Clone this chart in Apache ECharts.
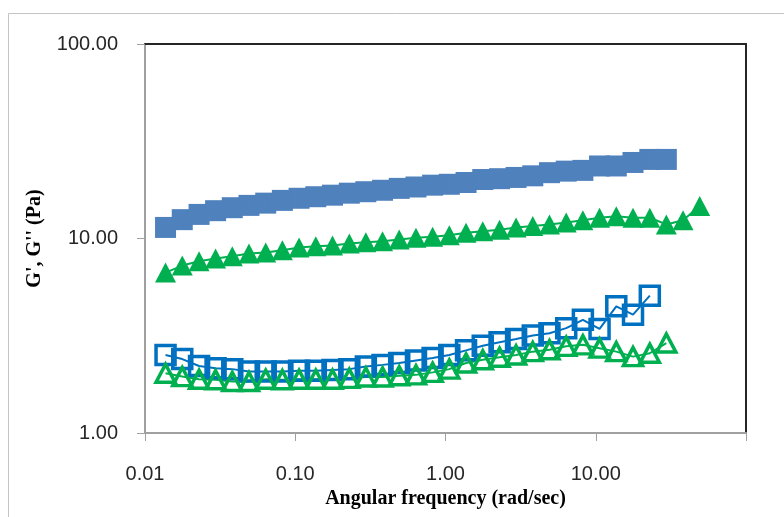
<!DOCTYPE html>
<html>
<head>
<meta charset="utf-8">
<script src="https://cdn.jsdelivr.net/npm/echarts@6/dist/echarts.min.js"></script>
<style>
  html, body { margin: 0; padding: 0; background: #fff; }
  #chart { width: 784px; height: 517px; }
</style>
</head>
<body>
<div id="chart"></div>
<script>
  // angular frequency (rad/sec), shared by all four series
  const freq = [0.0137, 0.0177, 0.0229, 0.0295, 0.0381, 0.0492, 0.0636, 0.0821, 0.106, 0.137,
    0.177, 0.229, 0.295, 0.381, 0.492, 0.636, 0.821, 1.06, 1.37, 1.77,
    2.29, 2.95, 3.81, 4.92, 6.36, 8.21, 10.6, 13.7, 17.7, 22.9,
    29.5, 38.1, 49.2]
  // filled squares (G')
  const gStoreA = [11.4, 12.5, 13.3, 13.9, 14.4, 14.8, 15.2, 15.7, 16.1, 16.4,
    16.7, 17.1, 17.4, 17.7, 18.1, 18.4, 18.8, 19.0, 19.4, 20.1,
    20.3, 20.6, 21.0, 21.8, 22.2, 22.4, 23.6, 23.6, 24.6, 25.5, 25.5]
  // open squares (G'')
  const gLossA = [2.52, 2.40, 2.21, 2.15, 2.13, 2.07, 2.07, 2.07, 2.09, 2.09,
    2.11, 2.13, 2.20, 2.24, 2.29, 2.36, 2.43, 2.52, 2.66, 2.81,
    2.93, 3.04, 3.17, 3.26, 3.46, 3.82, 3.43, 4.48, 4.06, 5.08]
  // filled triangles (G')
  const gStoreB = [6.68, 7.26, 7.64, 7.89, 8.11, 8.37, 8.47, 8.71, 8.99, 9.12,
    9.20, 9.42, 9.57, 9.68, 9.89, 10.1, 10.2, 10.4, 10.7, 10.9,
    11.1, 11.4, 11.6, 11.8, 12.1, 12.4, 12.8, 13.0, 12.8, 12.8,
    11.8, 12.4, 14.7]
  // open triangles (G'')
  const gLossB = [2.03, 1.95, 1.89, 1.88, 1.84, 1.84, 1.89, 1.88, 1.89, 1.89,
    1.89, 1.91, 1.94, 1.94, 1.97, 1.99, 2.05, 2.13, 2.29, 2.38,
    2.45, 2.52, 2.62, 2.68, 2.79, 2.84, 2.73, 2.62, 2.47, 2.57, 2.90]

  const pairs = (vals) => vals.map((v, i) => [freq[i], v])

  const chart = echarts.init(document.getElementById('chart'))
  const labelStyle = { fontFamily: 'Liberation Sans, Arial', fontSize: 20, color: '#262626' }
  const titleStyle = { fontFamily: 'Liberation Serif, Times New Roman', fontWeight: 'bold', fontSize: 20, color: '#000' }

  chart.setOption({
    animation: false,
    graphic: [{
      type: 'rect',
      shape: { x: 8.5, y: 13.5, width: 900, height: 700 },
      style: { fill: 'none', stroke: '#c4c4c4', lineWidth: 1 },
      silent: true,
      z: -10
    }],
    grid: { left: 145, right: 38, top: 44, bottom: 84 },
    xAxis: [{
      type: 'log',
      logBase: 10,
      min: 0.01,
      max: 100,
      name: 'Angular frequency (rad/sec)',
      nameLocation: 'middle',
      nameGap: 55,
      nameTextStyle: titleStyle,
      axisLine: { lineStyle: { color: '#a0a0a0', width: 2 } },
      axisTick: { length: 8, lineStyle: { color: '#a0a0a0' } },
      minorTick: { show: false },
      splitLine: { show: false },
      axisLabel: Object.assign({
        margin: 31,
        formatter: (v) => (v >= 100 ? '' : v.toFixed(2))
      }, labelStyle)
    }, {
      type: 'log',
      logBase: 10,
      min: 0.01,
      max: 100,
      position: 'top',
      axisLine: { lineStyle: { color: '#262626', width: 2 } },
      axisTick: { show: false },
      axisLabel: { show: false },
      splitLine: { show: false }
    }],
    yAxis: [{
      type: 'log',
      logBase: 10,
      min: 1,
      max: 100,
      name: "G', G'' (Pa)",
      nameLocation: 'middle',
      nameGap: 100,
      nameTextStyle: titleStyle,
      axisLine: { show: true, lineStyle: { color: '#a0a0a0', width: 2 } },
      axisTick: { show: true, length: 8, lineStyle: { color: '#a0a0a0' } },
      splitLine: { show: false },
      axisLabel: Object.assign({
        margin: 27,
        formatter: (v) => v.toFixed(2)
      }, labelStyle)
    }, {
      type: 'log',
      logBase: 10,
      min: 1,
      max: 100,
      position: 'right',
      axisLine: { show: true, lineStyle: { color: '#262626', width: 2 } },
      axisTick: { show: false },
      axisLabel: { show: false },
      splitLine: { show: false }
    }],
    series: [{
      type: 'line',
      data: pairs(gStoreA),
      symbol: 'rect',
      symbolSize: 21,
      lineStyle: { color: '#4f81bd', width: 2 },
      itemStyle: { color: '#4f81bd', opacity: 1 }
    }, {
      type: 'line',
      data: pairs(gStoreB),
      symbol: 'triangle',
      symbolSize: [21, 20],
      lineStyle: { color: '#00b050', width: 2 },
      itemStyle: { color: '#00b050', opacity: 1 }
    }, {
      type: 'line',
      data: pairs(gLossA),
      symbol: 'rect',
      symbolSize: 19,
      lineStyle: { color: '#0070c0', width: 2 },
      itemStyle: { color: 'rgba(0,0,0,0)', borderColor: '#0070c0', borderWidth: 3.5, opacity: 1 }
    }, {
      type: 'line',
      data: pairs(gLossB),
      symbol: 'triangle',
      symbolSize: [19, 18],
      lineStyle: { color: '#00b050', width: 2 },
      itemStyle: { color: 'rgba(0,0,0,0)', borderColor: '#00b050', borderWidth: 3.5, opacity: 1 }
    }]
  })
</script>
</body>
</html>
